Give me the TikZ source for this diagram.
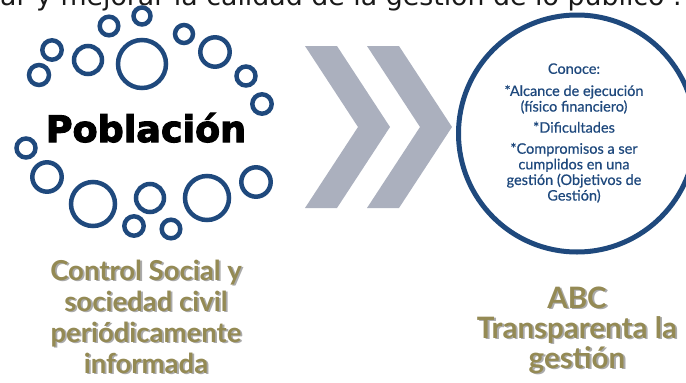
\documentclass[tikz,border=0pt]{standalone}
\usepackage{fontspec}
\setmainfont{Lato}
\newfontface\heavyfont{DejaVu Sans Bold}[FakeBold=3]
\newfontface\topfont{DejaVu Sans}
\newfontface\medfont{Lato}[FakeBold=0.6]
\definecolor{circblue}{RGB}{31,73,125}
\definecolor{chevgray}{RGB}{171,176,190}
\definecolor{olivetext}{RGB}{148,138,84}
\definecolor{shadowgray}{RGB}{170,170,170}
\newcommand\shadowtxt[1]{\makebox[0pt][l]{\hspace{1.8pt}\raisebox{-1.8pt}{\color{shadowgray}#1}}#1}
\begin{document}
\begin{tikzpicture}[x=1pt,y=-1pt,
  bubble/.style={draw=circblue, line width=4.5pt},
  chevron/.style={fill=chevgray, draw=none},
  lab/.style={font=\fontsize{27.5}{31}\selectfont\bfseries, text=olivetext, inner sep=0pt, anchor=base, align=center},
  biglab/.style={lab, font=\fontsize{29.5}{30}\selectfont\bfseries},
  ]
\useasboundingbox (0,0) rectangle (686,383);
\clip (0,0) rectangle (686,383);
% top cut text
\node[anchor=base west, inner sep=0pt, font=\topfont\fontsize{26.8}{30}\selectfont, text=black!90] (toptext) at (0,5) {ar y mejorar la calidad de la gestión de lo público .};
% bubbles
\foreach \x/\y/\r [count=\i] in {142/16/8.5, 109/26/9.3, 52/50/9.7, 39/75/10, 88/60/14, 142/64/24, 184/34/9, 215/52/14.7, 246/76/9.5, 262/104/9.7, 26/148/9.5, 47/177/14.7, 93/204/22, 134/226/9.7, 150/198/14, 171/229/9.3, 207/198/22, 256/182/14.7}
  \draw[bubble] (\x,\y) circle[radius=\r];
\node[font=\heavyfont\fontsize{36.5}{40}\selectfont, anchor=base, inner sep=0pt] (pob) at (146,142) {Población};
% chevrons
\path[chevron] (305,46) -- (337,46) -- (390,127) -- (337,208) -- (305,208) -- (358,127) -- cycle;
\path[chevron] (367,46) -- (399,46) -- (452,127) -- (399,208) -- (367,208) -- (420,127) -- cycle;
% right circle
\node[circle, draw=circblue, line width=5pt, minimum size=237pt, inner sep=0pt] (abc) at (577,133.5) {};
\node[font=\medfont\fontsize{14.5}{15.6}\selectfont, text=circblue, align=center, inner sep=0pt] (conoce) at (574,133) {Conoce:\\[6.5pt]*Alcance de ejecución\\(físico financiero)\\[5.5pt]*Dificultades\\[5.5pt]*Compromisos a ser\\cumplidos en una\\gestión (Objetivos de\\Gestión)};
% left label (base anchor = last line's baseline)
\node[lab] (control) at (146,373) {\shadowtxt{Control Social y}\\\shadowtxt{sociedad civil}\\\shadowtxt{periódicamente}\\\shadowtxt{informada}};
% right label
\node[biglab] (transp) at (577,368) {\shadowtxt{ABC}\\\shadowtxt{Transparenta la}\\\shadowtxt{gestión}};
\end{tikzpicture}
\end{document}
